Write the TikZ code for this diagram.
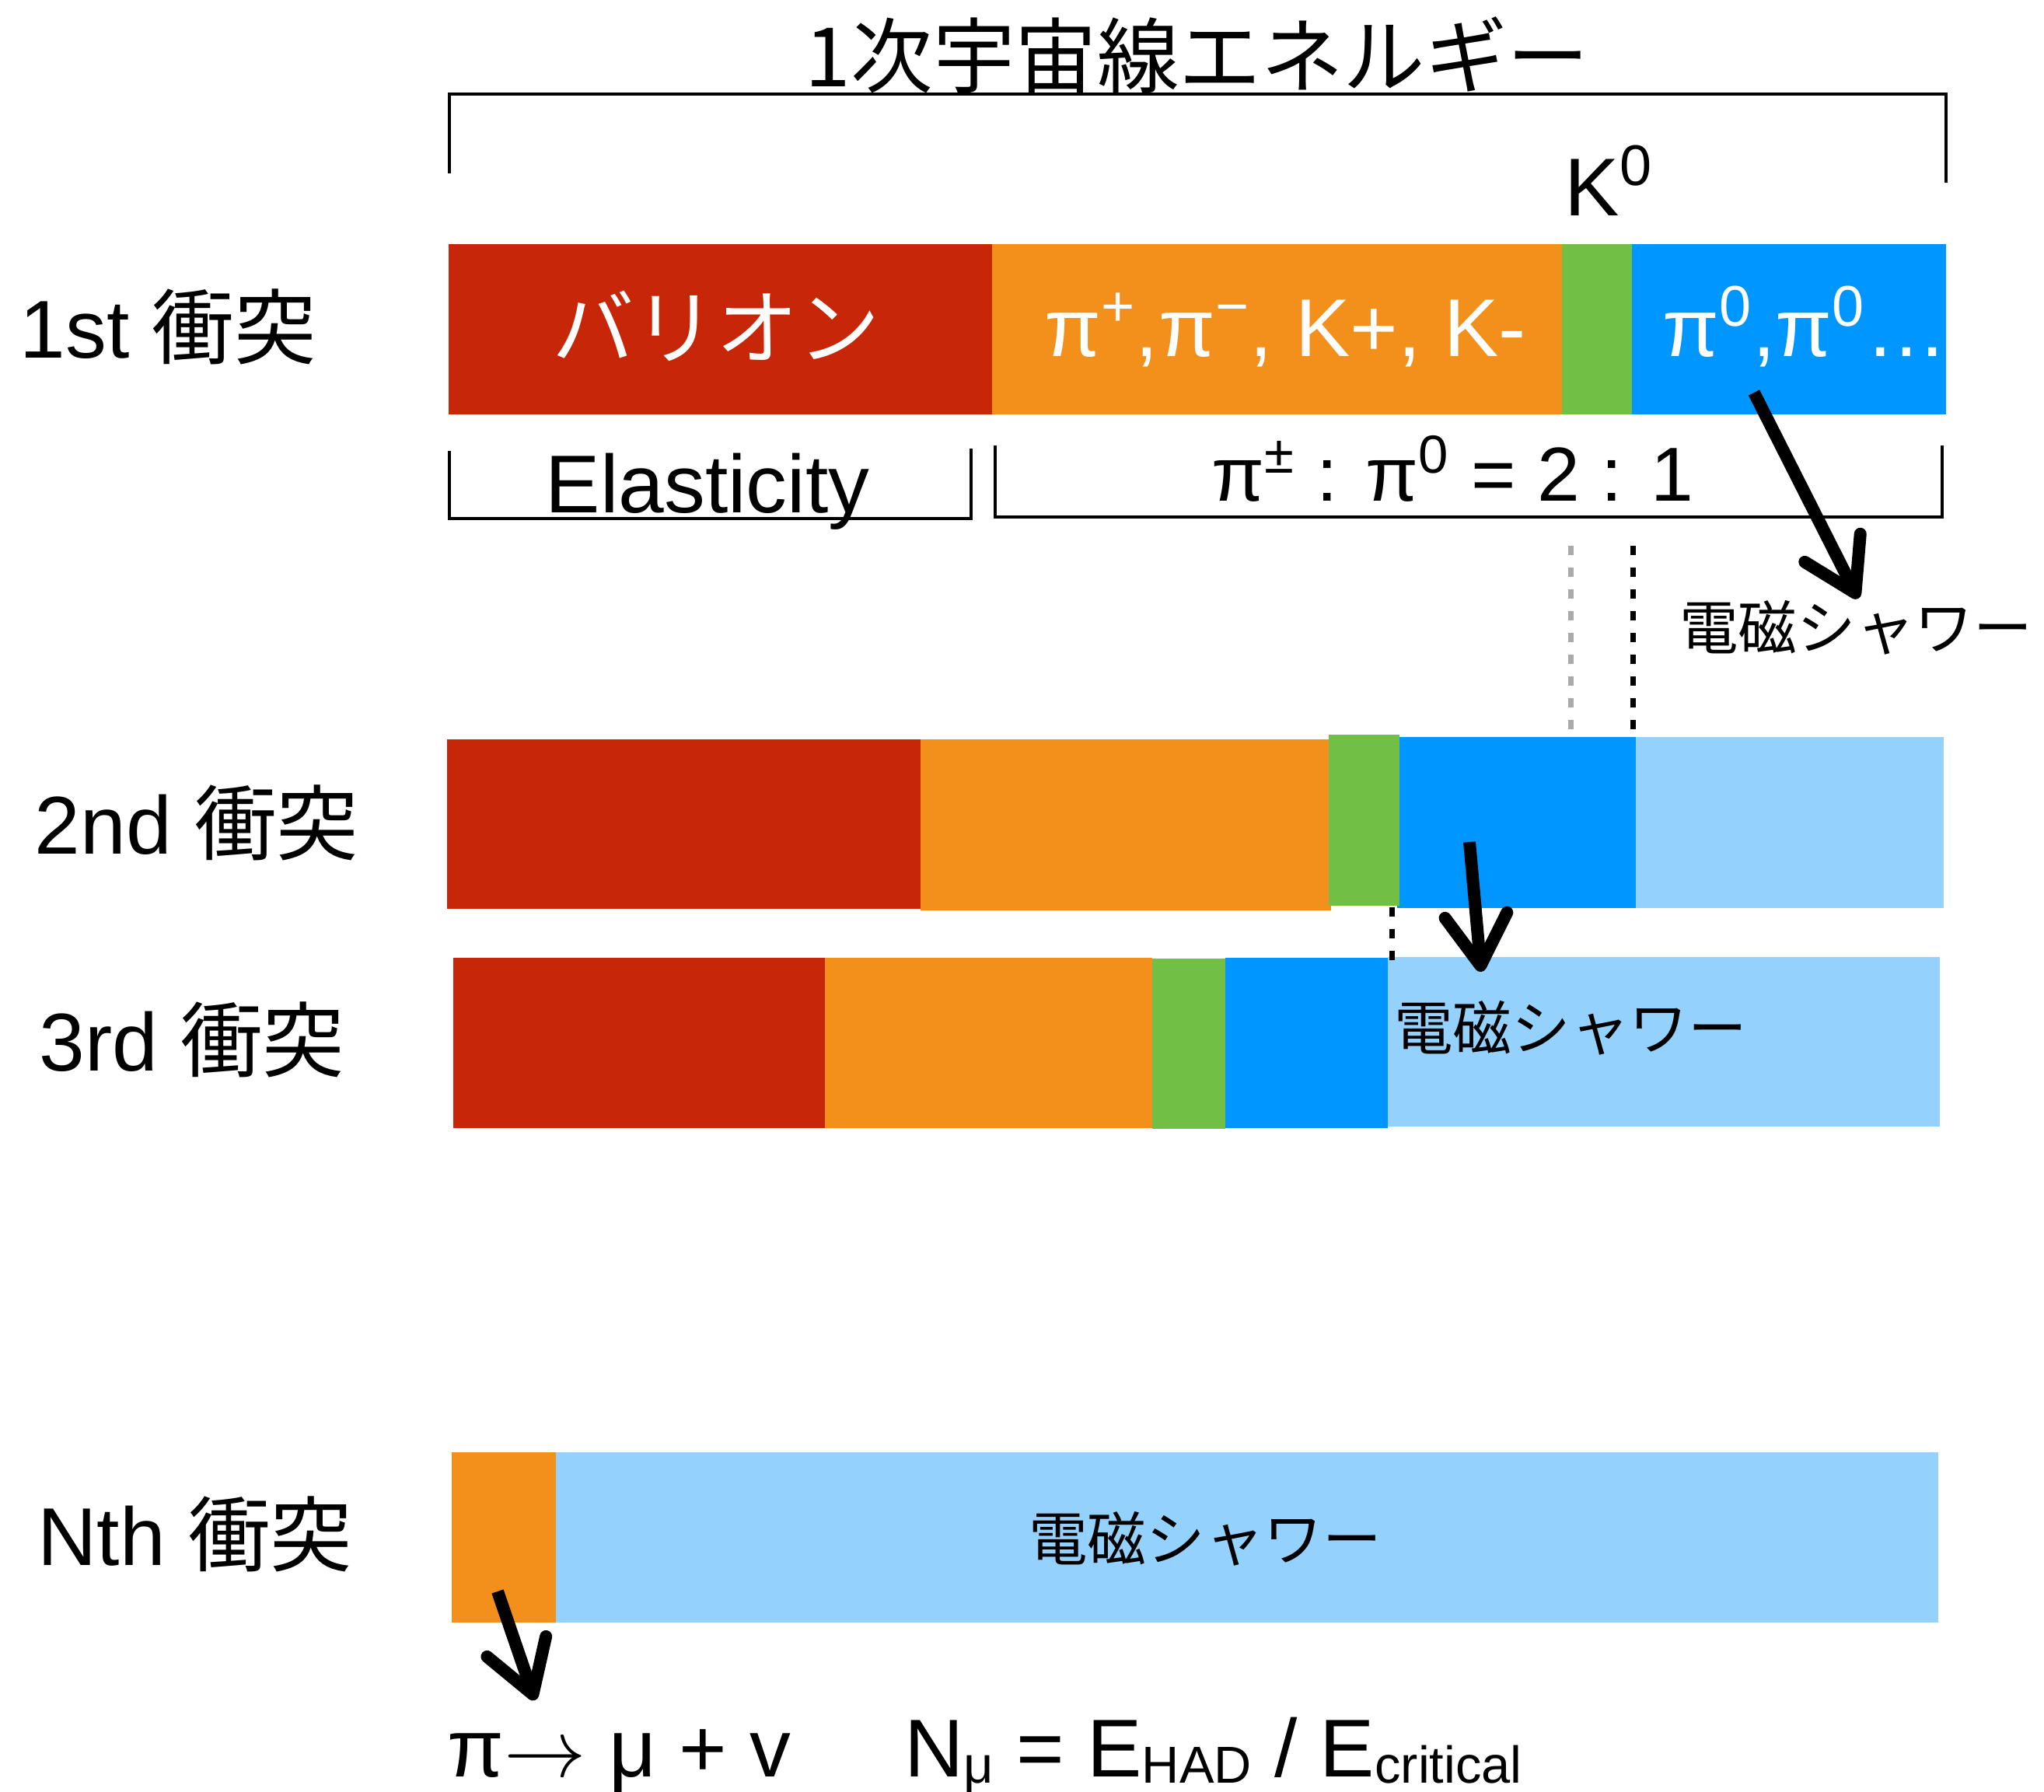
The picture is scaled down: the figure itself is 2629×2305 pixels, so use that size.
\RequirePackage{fix-cm}
\documentclass[tikz,border=0pt]{standalone}
\usepackage{fontspec}
\setmainfont{Liberation Sans}
\newfontfamily\jp{Noto Sans CJK JP}
\usepackage{xcolor}
\usetikzlibrary{arrows.meta}
\definecolor{barred}{HTML}{C82609}
\definecolor{barorange}{HTML}{F2901B}
\definecolor{bargreen}{HTML}{71BF44}
\definecolor{barblue}{HTML}{0096FF}
\definecolor{barsky}{HTML}{94D1FC}
\definecolor{dotgray}{HTML}{AAAAAA}
\newcommand{\lowtxt}[1]{\raisebox{-.8mm}{\fontsize{19}{22}\selectfont #1}}

\begin{document}
\begin{tikzpicture}[
		x=.01cm, y=-.01cm,
		txt/.style={inner sep=0pt, font=\fontsize{30}{36}\selectfont},
		inbar/.style={txt, text=white},
		jptxt/.style={font=\jp\fontsize{30}{36}\selectfont},
		shower/.style={inner sep=0pt, font=\jp\fontsize{21.5}{26}\selectfont},
		brace/.style={line width=.035cm},
		marker/.style={line width=.07cm, dash pattern=on .12cm off .16cm},
		bigarrow/.style={line width=.16cm, -{Straight Barb[length=6.5mm,width=8mm,round]}}
		]
		\useasboundingbox (0,0) rectangle (2629,2305);
		
		%------------------------------
		% energy bracket on top
		%------------------------------
		\draw[brace] (578,223) |- (2503,121) -- (2503,235);
		\node[txt, jptxt, anchor=base] (title) at (1540,111) {1次宇宙線エネルギー};
		\node[txt, anchor=base west] (k0) at (2012,277) {K\textsuperscript{0}};
		
		%------------------------------
		% the bars, one row per collision
		%------------------------------
		% 1st
		\foreach \xa/\xb/\c in {577/1276/barred, 1276/2009/barorange, 2009/2099/bargreen, 2099/2503/barblue}
		\fill[\c] (\xa,314) rectangle (\xb,533);
		
		% 2nd
		\foreach \xa/\xb/\ya/\yb/\c in {575/1184/951/1169/barred, 1184/1712/951/1171/barorange,
			1797/2104/948/1168/barblue, 2104/2500/948/1168/barsky, 1709/1800/945/1165/bargreen}
		\fill[\c] (\xa,\ya) rectangle (\xb,\yb);
		
		% 3rd
		\foreach \xa/\xb/\ya/\yb/\c in {583/1061/1232/1451/barred, 1061/1482/1232/1451/barorange,
			1482/1576/1233/1452/bargreen, 1576/1785/1232/1451/barblue, 1785/2495/1231/1449/barsky}
		\fill[\c] (\xa,\ya) rectangle (\xb,\yb);
		
		% Nth
		\foreach \xa/\xb/\c in {581/715/barorange, 715/2493/barsky}
		\fill[\c] (\xa,1868) rectangle (\xb,2087);
		
		%------------------------------
		% labels
		%------------------------------
		\node[txt, anchor=base west] (col1) at (25,460) {1st {\jp 衝突}};
		\node[txt, anchor=base west] (col2) at (44,1098) {2nd {\jp 衝突}};
		\node[txt, anchor=base west] (col3) at (50,1377) {3rd {\jp 衝突}};
		\node[txt, anchor=base west] (colN) at (48,2013) {Nth {\jp 衝突}};
		
		\node[inbar, jptxt, anchor=base] (baryon) at (921,460) {バリオン};
		\node[inbar, anchor=base] (charged) at (1653,458) {π\textsuperscript{+},π\textsuperscript{−}, K+, K-};
		\node[inbar, anchor=base] (neutral) at (2322,458) {π\textsuperscript{0},π\textsuperscript{0}…};
		
		\draw[brace] (578,580) |- (1249,667) -- (1249,577);
		\draw[brace] (1280,573) |- (2498,665) -- (2498,573);
		\node[txt, anchor=base] (elas) at (910,659) {Elasticity};
		\node[txt, font=\fontsize{28}{34}\selectfont, anchor=base] (ratio) at (1868,644) {π\textsuperscript{±} : π\textsuperscript{0} = 2 : 1};
		
		\node[shower, anchor=base] (em1) at (2387,835) {電磁シャワー};
		\node[shower, anchor=base] (em3) at (2020,1350) {電磁シャワー};
		\node[shower, anchor=base] (emN) at (1550,2007) {電磁シャワー};
		
		\node[txt, anchor=base west] (decay) at (575,2285) {π$\rightarrow$\ μ + v};
		\node[txt, anchor=base west] (nmu) at (1163,2285) {N\lowtxt{μ} = E\lowtxt{HAD} / E\lowtxt{critical}};
		
		%------------------------------
		% dotted markers
		%------------------------------
		\draw[marker, dotgray] (2020,702) -- (2020,954);
		\draw[marker] (2100,702) -- (2100,954);
		\draw[marker] (1790,1167) -- (1790,1250);
		
		%------------------------------
		% arrows
		%------------------------------
		\coordinate (src1) at (2256,505);
		\coordinate (tip1) at (2390,770);
		\coordinate (src2) at (1890,1083);
		\coordinate (tip2) at (1905,1250);
		\coordinate (srcN) at (640,2047);
		\coordinate (tipN) at (688,2187);
		\draw[bigarrow] (src1) -- (tip1);
		\draw[bigarrow] (src2) -- (tip2);
		\draw[bigarrow] (srcN) -- (tipN);
\end{tikzpicture}
\end{document}
